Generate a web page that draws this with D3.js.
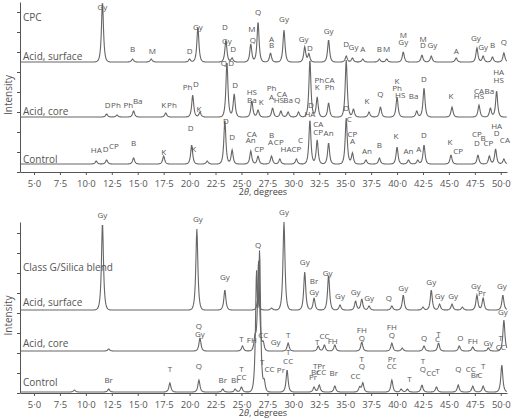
<!DOCTYPE html><html><head><meta charset="utf-8">
<script src="https://cdn.jsdelivr.net/npm/d3@7"></script>
<style>body{margin:0;background:#fff}text{font-family:"Open Sans",sans-serif}</style></head><body>
<svg id="c" width="520" height="419"></svg>
<script>
// x ticks (2θ degrees)
const xTicks=[5,7.5,10,12.5,15,17.5,20,22.5,25,27.5,30,32.5,35,37.5,40,42.5,45,47.5,50];
// peaks: [2θ, height]
const cpcSurface=[[11.6,60],[14.5,3],[16.3,3],[20.0,3],[20.8,35],[23.5,22],[24.1,4],[25.9,18],[26.6,40],[27.8,9],[29.1,32],[31.1,15],[31.5,8],[33.4,22],[35.1,6],[35.7,4],[36.7,3],[38.3,3],[39.0,3],[40.6,10],[42.4,7],[43.3,6],[45.7,4],[47.7,14],[48.3,6],[49.2,5],[50.3,9]];
const cpcCore=[[12.0,3],[13.0,2],[14.6,6],[17.7,4],[20.3,22],[21.0,5],[23.6,55],[24.3,23],[26.0,16],[26.6,7],[28.0,9],[28.8,6],[29.5,5],[30.5,5],[31.6,57],[32.3,20],[33.4,14],[35.1,57],[35.8,8],[37.3,5],[38.4,10],[40.0,20],[41.9,6],[42.6,29],[45.3,10],[47.9,12],[49.0,9],[49.6,26]];
const cpcControl=[[11.0,3],[12.0,4],[14.6,6],[17.5,8],[20.2,19],[21.7,3],[23.4,44],[24.1,14],[25.9,13],[26.6,8],[27.9,8],[28.7,5],[30.3,5],[31.6,44],[32.3,24],[33.4,21],[35.1,46],[35.7,11],[37.0,4],[38.3,6],[40.0,17],[41.1,4],[42.0,4],[42.6,19],[45.2,9],[47.8,9],[48.9,8],[49.5,15],[50.3,5]];
const blendSurface=[[11.6,87],[20.7,81],[23.4,20],[26.6,12],[27.9,2],[29.1,88],[31.1,38],[32.0,12],[33.4,35],[34.5,5],[36.0,9],[36.6,11],[37.3,4],[39.5,4],[40.6,15],[42.5,3],[43.3,20],[44.1,6],[45.3,6],[46.3,3],[47.7,15],[48.3,12],[50.2,15]];
const blendCore=[[12.2,2],[21.0,13],[25.1,5],[26.3,12],[26.65,90],[27.1,8],[29.5,8],[32.4,5],[33.0,6],[34.0,6],[36.6,9],[39.5,8],[40.5,3],[42.6,5],[44.0,8],[46.0,5],[47.3,4],[48.8,3],[50.3,31]];
const blendControl=[[8.9,2],[12.2,3],[18.1,9],[20.9,12],[23.2,3],[24.4,3],[25.0,5],[26.45,110],[26.75,132],[27.2,10],[29.4,22],[32.0,5],[32.5,7],[34.0,6],[36.4,5],[36.7,9],[39.5,12],[40.4,3],[41.0,3],[42.4,7],[43.8,5],[45.9,7],[47.3,6],[48.3,6],[50.1,27]];
// labels: [2θ, height above axis, text]
const topLabels=[[11.6,162,"Gy"],[14.5,120,"B"],[16.4,118,"M"],[20.0,118,"D"],[20.8,142,"Gy"],[23.4,142,"D"],[23.6,128,"Gy"],[24.2,120,"D"],[26.0,140,"M"],[26.1,129,"Q"],[26.6,157,"Q"],[27.9,130,"A"],[27.9,124,"B"],[29.1,150,"Gy"],[31.0,130,"Gy"],[31.6,121,"D"],[33.4,138,"Gy"],[35.1,125,"D"],[35.8,122,"Gy"],[36.7,120,"A"],[38.3,120,"B"],[39.0,120,"M"],[40.6,134,"M"],[40.6,127,"Gy"],[42.5,130,"M"],[42.5,124,"D"],[43.4,124,"Gy"],[45.7,118,"A"],[47.6,131,"Gy"],[48.3,122,"Gy"],[49.2,124,"B"],[50.3,127,"Q"],
[12.1,64,"D"],[12.9,64,"Ph"],[14.1,64,"Ph"],[15.0,68,"Ba"],[17.5,64,"K"],[18.3,64,"Ph"],[19.8,82,"Ph"],[20.6,85,"D"],[20.9,60,"K"],[23.3,106,"Q"],[24.0,106,"D"],[24.4,84,"D"],[26.0,77,"HS"],[26.0,69,"Ba"],[26.9,67,"K"],[27.9,81,"Ph"],[27.9,72,"A"],[28.9,75,"CA"],[28.6,69,"HS"],[29.5,69,"Ba"],[30.4,69,"Q"],[31.7,64,"D"],[32.5,89,"Ph"],[32.3,82,"K"],[33.5,89,"CA"],[33.5,82,"Ph"],[35.1,61,"D"],[37.1,68,"K"],[38.4,75,"Q"],[40.0,88,"K"],[40.0,81,"Ph"],[40.3,74,"HS"],[41.6,73,"Ba"],[42.6,90,"D"],[45.2,73,"K"],[47.9,78,"CA"],[47.9,73,"HS"],[48.9,78,"Ba"],[49.8,97,"HA"],[49.8,89,"HS"],
[11.0,19,"HA"],[11.9,20,"D"],[12.7,23,"CP"],[14.6,26,"B"],[17.5,17,"K"],[20.1,41,"D"],[20.4,20,"K"],[23.5,48,"D"],[24.1,32,"D"],[26.0,35,"CA"],[25.9,29,"An"],[26.7,20,"CP"],[27.9,34,"B"],[27.8,27,"A"],[28.6,27,"CP"],[29.3,20,"HA"],[30.3,20,"CP"],[30.7,29,"C"],[31.6,55,"HA"],[32.4,45,"CA"],[32.4,37,"CP"],[33.4,36,"An"],[35.4,50,"C"],[35.7,35,"CP"],[35.7,28,"A"],[37.1,18,"An"],[38.3,24,"B"],[39.9,33,"K"],[41.1,18,"An"],[42.1,20,"A"],[42.6,34,"D"],[45.1,27,"K"],[45.9,18,"CP"],[47.7,35,"CP"],[47.7,26,"D"],[48.3,31,"B"],[48.8,26,"CP"],[49.6,43,"HA"],[49.6,36,"D"],[50.4,29,"CA"]];
const botLabels=[[11.6,175,"Gy"],[20.8,171,"Gy"],[23.4,113,"Gy"],[26.6,145,"Q"],[29.1,178,"Gy"],[31.1,128,"Gy"],[32.0,109,"Br"],[32.0,98,"Gy"],[33.3,117,"Gy"],[34.5,94,"Gy"],[36.0,98,"Gy"],[37.3,92,"Gy"],[39.2,92,"Q"],[40.6,102,"Gy"],[43.3,108,"Gy"],[44.1,94,"Gy"],[45.4,94,"Gy"],[47.6,104,"Gy"],[48.2,97,"Pr"],[50.1,104,"Gy"],
[20.9,64,"Q"],[21.0,56,"Gy"],[25.0,51,"T"],[26.0,50,"FH"],[27.1,55,"CC"],[28.3,48,"Gy"],[29.5,55,"T"],[32.3,48,"T"],[33.0,54,"CC"],[33.8,49,"FH"],[36.6,60,"FH"],[36.6,52,"Q"],[39.5,63,"FH"],[39.5,55,"Q"],[42.6,52,"Q"],[44.0,56,"T"],[43.9,51,"C"],[46.1,52,"O"],[47.3,49,"FH"],[48.8,47,"Gy"],[50.2,78,"Gy"],
[12.2,10,"Br"],[18.1,21,"T"],[20.9,24,"Q"],[23.2,10,"Br"],[24.4,10,"Br"],[25.0,21,"T"],[25.0,13,"CC"],[27.0,28,"T"],[27.7,21,"CC"],[28.8,20,"Pr"],[29.5,29,"CC"],[29.5,38,"T"],[32.1,24,"T"],[32.1,18,"Br"],[31.9,13,"Pr"],[32.7,24,"Pr"],[32.7,18,"CC"],[33.9,17,"Br"],[36.0,14,"CC"],[36.6,31,"T"],[36.6,24,"Q"],[39.5,31,"Pr"],[39.5,24,"CC"],[41.2,11,"T"],[42.5,29,"T"],[42.5,21,"Q"],[43.3,17,"CC"],[43.9,19,"T"],[45.9,21,"Q"],[47.1,21,"CC"],[47.5,15,"Br"],[48.0,15,"C"],[48.3,24,"T"],[50.0,52,"T"],[50.0,43,"CC"]];

const svg=d3.select("#c");
const x=d3.scaleLinear().domain([3.65,50.6]).range([20,507]);
const fmt=d=>d.toFixed(1).replace(".","·");
function profile(peaks,base,w){
  const pts=[];
  for(let t=3.7;t<=50.6;t+=0.04){
    let v=0;
    for(const [p,h] of peaks){const dd=(t-p)/w;v+=h/(1+dd*dd*4)*Math.exp(-dd*dd*0.3);}
    pts.push([t,base+v]);
  }
  return pts;
}
function panel(y0,y1,traces,labels,names){
  const y=d3.scaleLinear().domain([0,y0-y1]).range([y0,y1]);
  const g=svg.append("g");
  g.append("g").attr("transform",`translate(0,${y0})`).call(d3.axisBottom(x).tickValues(xTicks).tickFormat(fmt).tickSize(3).tickSizeOuter(0))
   .call(a=>{a.select(".domain").attr("stroke","#555");a.selectAll("line").attr("stroke","#555");a.selectAll("text").attr("fill","#555").attr("font-size",9.5).attr("dy","0.95em");});
  g.append("g").attr("transform","translate(20,0)").call(d3.axisLeft(y).ticks(7).tickFormat("").tickSize(3).tickSizeOuter(0))
   .call(a=>{a.select(".domain").attr("stroke","#555");a.selectAll("line").attr("stroke","#555");});
  const line=d3.line().x(d=>x(d[0])).y(d=>y(Math.min(d[1],y0-y1))).curve(d3.curveLinear);
  traces.forEach(([pk,base])=>g.append("path").attr("d",line(profile(pk,base,0.24))).attr("fill","none").attr("stroke","#666").attr("stroke-width",1.1));
  g.selectAll("text.l").data(labels).join("text").attr("x",d=>x(d[0])).attr("y",d=>y(d[1])).attr("text-anchor","middle").attr("font-size",8).attr("fill","#555").text(d=>d[2]);
  g.append("text").attr("x",263).attr("y",y0+23).attr("text-anchor","middle").attr("font-size",9).attr("fill","#444").html('2<tspan font-style="italic">θ</tspan>, degrees');
  g.append("text").attr("transform",`translate(12,${(y0+y1)/2+8}) rotate(-90)`).attr("text-anchor","middle").attr("font-size",10).attr("fill","#555").text("Intensity");
  names.forEach(([t,yy])=>g.append("text").attr("x",23).attr("y",y(yy)).attr("font-size",10).attr("fill","#555").text(t));
}
panel(172,2,[[cpcSurface,110],[cpcCore,55],[cpcControl,8]],topLabels,[["CPC",151],["Acid, surface",112],["Acid, core",57],["Control",9]]);
panel(393,222,[[blendSurface,83],[blendCore,42],[blendControl,1]],botLabels,[["Class G/Silica blend",122],["Acid, surface",87],["Acid, core",46],["Control",7]]);
</script></body></html>
